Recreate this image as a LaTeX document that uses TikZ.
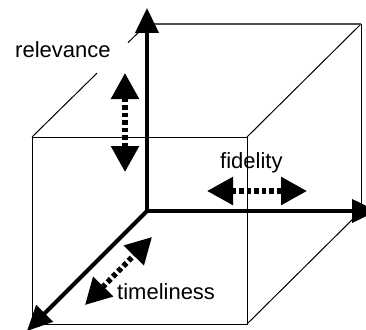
\documentclass[tikz,border=0pt]{standalone}
\usepackage{fontspec}
\setmainfont{Liberation Sans}
\usepackage{tikz}
\usetikzlibrary{arrows.meta,calc}
\definecolor{cbInk}{RGB}{0,0,0}
\definecolor{cbGrey}{RGB}{80,80,80}
\definecolor{cbPaper}{RGB}{255,255,255}

\begin{document}
\begin{tikzpicture}[x=1pt,y=-1pt,
  axisline/.style={draw=cbInk,line width=4pt,-{Triangle[length=25pt,width=23pt]}},
  cubeedge/.style={draw=cbInk,line width=1pt},
  twoway/.style={draw=cbInk,line width=5.5pt,dash pattern=on 4.5pt off 3pt,
    {Triangle[length=26pt,width=27pt]}-{Triangle[length=26pt,width=27pt]}},
  qlabel/.style={font=\fontsize{22}{26}\selectfont,text=cbInk,inner sep=0pt,anchor=base west}]
  \useasboundingbox[fill=cbPaper] (0,0) rectangle (366,329);
  \clip (0,0) rectangle (366,329);
  % corners of the cube
  \coordinate (O) at (147,211);
  \coordinate (BTL) at (147,24);
  \coordinate (BTR) at (361,24);
  \coordinate (BBR) at (361,211);
  \coordinate (FTL) at (32,137);
  \coordinate (FTR) at (247,137);
  \coordinate (FBR) at (247,324);
  % axis ends
  \coordinate (relAxis) at (147,8);
  \coordinate (fidAxis) at (377,211);
  \coordinate (timAxis) at (27,331);
  % double arrows
  \coordinate (relUp) at (125,73);
  \coordinate (relDown) at (125,172);
  \coordinate (fidLeft) at (207,191);
  \coordinate (fidRight) at (307,191);
  \coordinate (timLow) at (85,305);
  \coordinate (timHigh) at (152,237);

  \draw[cubeedge] (FTL) rectangle (FBR);
  \draw[cubeedge] (FTL) -- ($(FTL)!0.565!(BTL)$);
  \draw[cubeedge] ($(FTL)!0.835!(BTL)$) -- (BTL);
  \draw[cubeedge] (FTR) -- (BTR);
  \draw[cubeedge] (FBR) -- (BBR);
  \draw[cubeedge] (BTR) -- (BBR);
  \draw[draw=cbGrey,line width=1.5pt] (BTL) -- (BTR);

  \draw[axisline] (O) -- (relAxis);
  \draw[axisline] (O) -- (fidAxis);
  \draw[axisline] (O) -- (timAxis);

  \draw[twoway] (relUp) -- (relDown);
  \draw[twoway] (fidLeft) -- (fidRight);
  \draw[twoway] (timLow) -- (timHigh);

  \node[qlabel] (relevance) at (15,57) {relevance};
  \node[qlabel] (fidelity) at (220,168) {fidelity};
  \node[qlabel] (timeliness) at (117,299) {timeliness};
\end{tikzpicture}
\end{document}
